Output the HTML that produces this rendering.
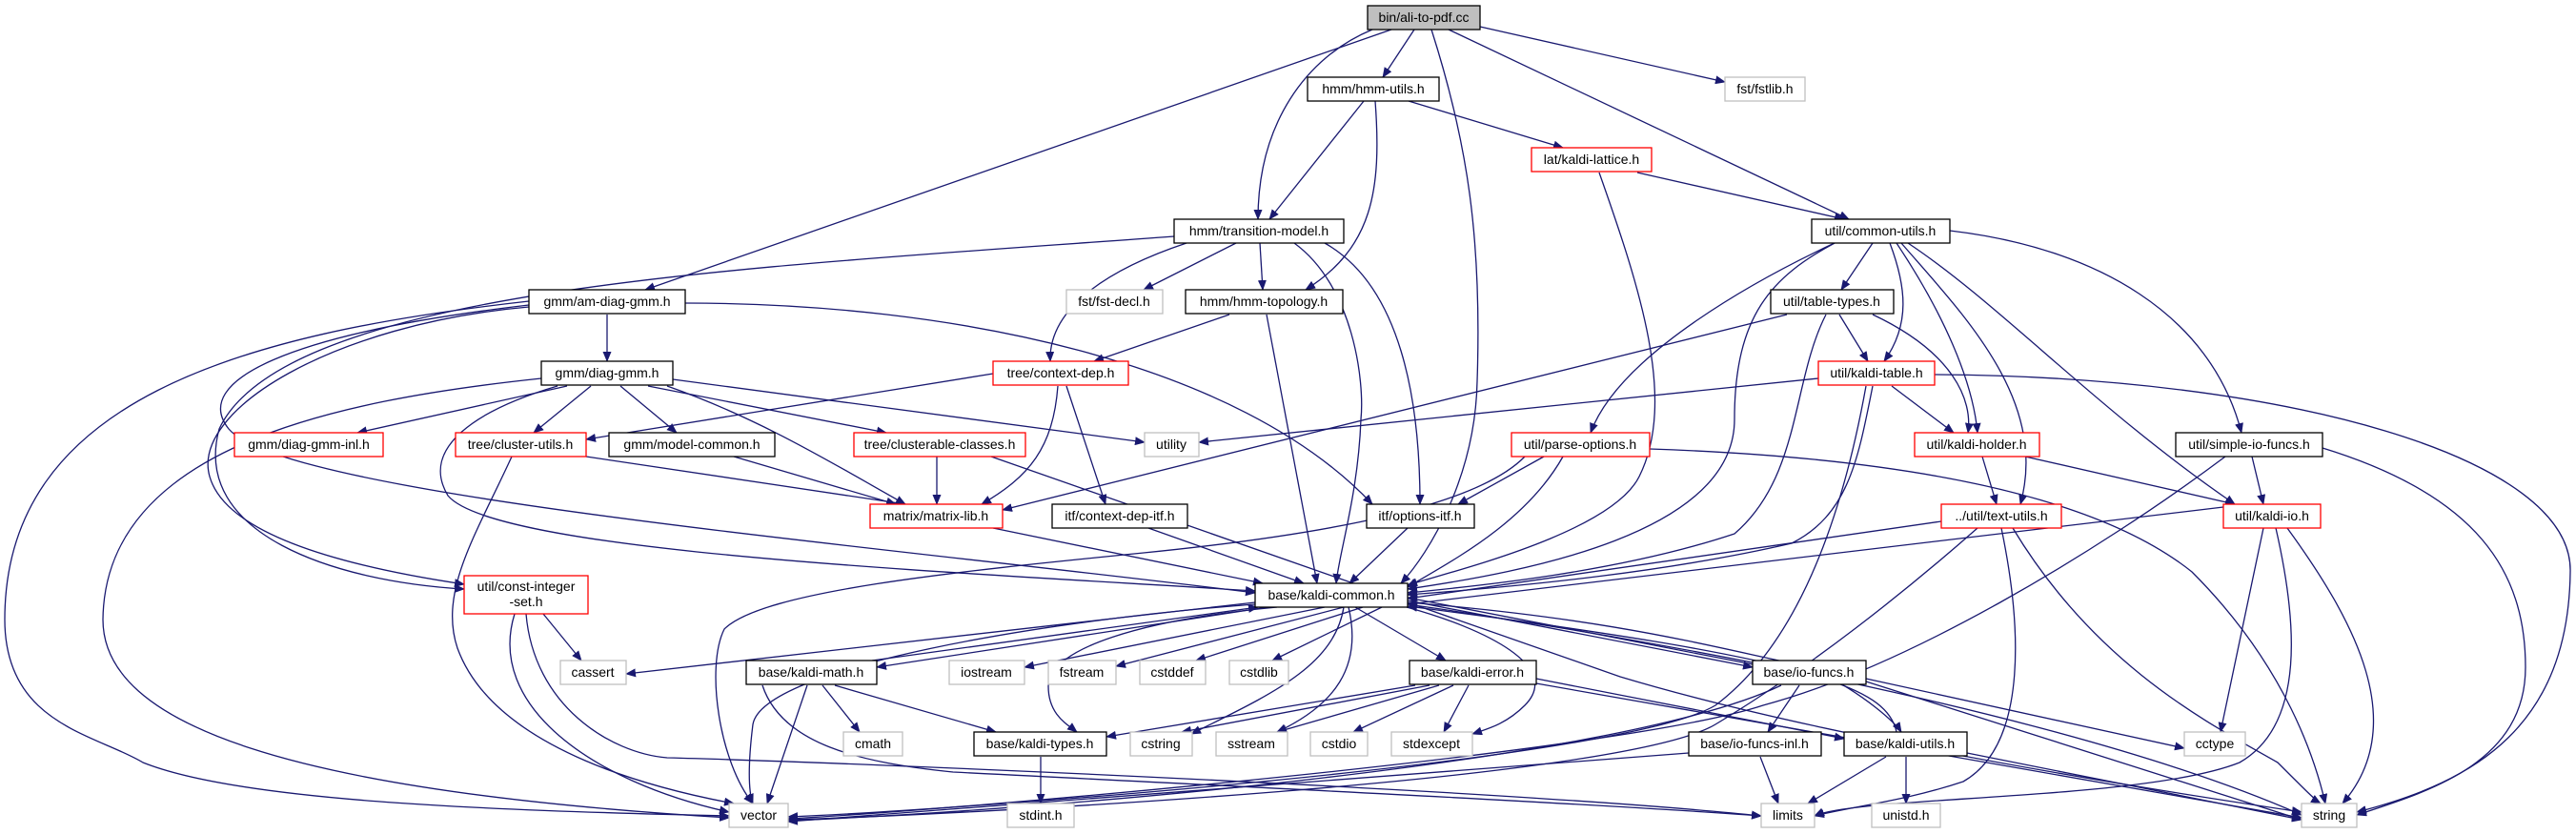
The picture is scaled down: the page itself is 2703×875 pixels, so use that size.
<!DOCTYPE html>
<html><head><meta charset="utf-8"><style>
html,body{margin:0;padding:0;background:#fff;}
svg{display:block}
text{font-family:"Liberation Sans",sans-serif;font-size:14px;fill:#000;text-anchor:middle}
.e{fill:none;stroke:#191970;stroke-width:1.3;marker-end:url(#a)}
.b{fill:#fff;stroke:#000;stroke-width:1.3}
.r{fill:#fff;stroke:#ff0000;stroke-width:1.3}
.g{fill:#fff;stroke:#bfbfbf;stroke-width:1.3}
</style></head><body>
<svg width="2703" height="875" viewBox="0 0 2703 875" xmlns="http://www.w3.org/2000/svg">
<defs><marker id="a" markerWidth="11" markerHeight="9" refX="10" refY="4.5" orient="auto" markerUnits="userSpaceOnUse"><path d="M0,0 L11,4.5 L0,9z" fill="#191970"/></marker></defs>
<g>
<path class="e" d="M1484,31 L1451,81"/>
<path class="e" d="M1440,31 C1370,60 1320,130 1320,230"/>
<path class="e" d="M1460,31 L677,304"/>
<path class="e" d="M1502,31 C1540,150 1555,250 1550,400 C1548,500 1500,580 1470,612"/>
<path class="e" d="M1520,31 L1940,230"/>
<path class="e" d="M1553,28 L1810,86"/>
<path class="e" d="M1431,106 L1332,230"/>
<path class="e" d="M1443,106 C1450,200 1440,260 1370,304"/>
<path class="e" d="M1478,106 L1640,155"/>
<path class="e" d="M1718,181 L1935,230"/>
<path class="e" d="M1678,181 C1720,300 1760,420 1720,500 C1690,560 1520,600 1477,614"/>
<path class="e" d="M1297,255 L1200,304"/>
<path class="e" d="M1322,255 L1325,304"/>
<path class="e" d="M1245,255 C1170,280 1100,320 1102,379"/>
<path class="e" d="M1390,255 C1470,300 1490,420 1490,529"/>
<path class="e" d="M1358,255 C1420,300 1432,400 1428,440 C1425,520 1405,580 1402,612"/>
<path class="e" d="M1232,248 C800,280 300,300 230,450 C200,560 350,610 487,618"/>
<path class="e" d="M637,330 L637,379"/>
<path class="e" d="M555,316 C250,350 5,420 5,650 C5,760 100,770 150,800 C250,840 500,850 765,856"/>
<path class="e" d="M555,322 C350,340 200,430 220,500 C240,570 400,600 487,613"/>
<path class="e" d="M719,318 C1000,318 1300,380 1440,529"/>
<path class="e" d="M555,320 C300,350 200,400 240,450 C300,520 900,570 1317,622"/>
<path class="e" d="M1290,330 L1148,379"/>
<path class="e" d="M1329,330 L1382,612"/>
<path class="e" d="M595,405 L375,454"/>
<path class="e" d="M620,405 L560,454"/>
<path class="e" d="M651,405 L710,454"/>
<path class="e" d="M680,405 L930,454"/>
<path class="e" d="M700,405 C800,440 880,490 950,529"/>
<path class="e" d="M706,398 L1201,464"/>
<path class="e" d="M568,397 C350,420 110,470 108,650 C108,760 300,830 765,858"/>
<path class="e" d="M585,405 C500,430 440,470 470,520 C520,580 1000,600 1317,620"/>
<path class="e" d="M1042,392 L615,461"/>
<path class="e" d="M1110,405 C1105,470 1080,500 1030,529"/>
<path class="e" d="M1119,405 L1160,529"/>
<path class="e" d="M615,479 L950,529"/>
<path class="e" d="M537,479 C500,560 460,620 480,680 C520,790 700,830 770,843"/>
<path class="e" d="M770,479 L940,529"/>
<path class="e" d="M983,479 L983,529"/>
<path class="e" d="M1040,479 L1700,710 C1900,770 2200,820 2415,852"/>
<path class="e" d="M1042,554 L1325,612"/>
<path class="e" d="M1205,554 L1368,612"/>
<path class="e" d="M1477,554 L1416,612"/>
<path class="e" d="M1965,255 L1932,304"/>
<path class="e" d="M1983,255 C2000,300 2005,340 1977,379"/>
<path class="e" d="M1990,255 C2040,330 2070,400 2075,454"/>
<path class="e" d="M1995,255 C2060,330 2150,420 2120,529"/>
<path class="e" d="M2002,255 C2100,320 2200,430 2345,529"/>
<path class="e" d="M2046,242 C2200,260 2320,330 2352,454"/>
<path class="e" d="M1925,255 C1850,290 1700,370 1669,454"/>
<path class="e" d="M1925,255 C1860,290 1820,330 1820,440 C1820,560 1600,600 1477,618"/>
<path class="e" d="M1930,330 L1960,379"/>
<path class="e" d="M1965,330 C2050,370 2070,420 2065,454"/>
<path class="e" d="M1875,330 L1052,535"/>
<path class="e" d="M1916,330 C1880,400 1890,500 1820,560 C1700,600 1550,615 1477,622"/>
<path class="e" d="M1908,397 L1258,464"/>
<path class="e" d="M1985,405 L2050,454"/>
<path class="e" d="M1965,405 C1950,480 1940,540 1880,570 C1750,600 1600,615 1477,624"/>
<path class="e" d="M1958,405 C1930,560 1880,680 1800,740 C1700,800 1000,850 827,857"/>
<path class="e" d="M2030,393 C2400,395 2700,480 2697,600 C2695,760 2600,820 2473,852"/>
<path class="e" d="M1620,479 L1530,529"/>
<path class="e" d="M1640,479 C1600,550 1520,590 1477,616"/>
<path class="e" d="M1600,479 C1550,530 1400,560 1200,580 C1000,600 800,620 760,660 C740,700 755,800 790,843"/>
<path class="e" d="M1731,471 C2000,480 2200,520 2300,600 C2400,700 2430,800 2440,843"/>
<path class="e" d="M2080,479 L2095,529"/>
<path class="e" d="M2125,479 L2345,529"/>
<path class="e" d="M2363,479 L2375,529"/>
<path class="e" d="M2335,479 C2200,580 2000,700 1850,740 C1700,790 1000,850 827,859"/>
<path class="e" d="M2437,470 C2600,520 2650,600 2650,700 C2650,800 2550,830 2473,855"/>
<path class="e" d="M2037,547 L1477,628"/>
<path class="e" d="M2075,554 C2000,620 1900,700 1800,760 C1700,820 1000,855 827,860"/>
<path class="e" d="M2100,554 C2120,650 2130,780 2060,820 C2000,840 1950,845 1904,856"/>
<path class="e" d="M2112,554 C2200,700 2320,760 2390,800 C2420,830 2430,840 2435,843"/>
<path class="e" d="M2333,532 L1477,634"/>
<path class="e" d="M2375,554 L2330,768"/>
<path class="e" d="M2388,554 C2410,650 2420,760 2350,800 C2250,840 1950,835 1904,856"/>
<path class="e" d="M2400,554 C2470,650 2530,760 2458,843"/>
<path class="e" d="M570,644 L610,693"/>
<path class="e" d="M540,644 C510,740 620,820 765,852"/>
<path class="e" d="M552,644 C560,740 640,790 700,795 C900,800 1600,830 1848,856"/>
<path class="e" d="M1317,632 L657,707"/>
<path class="e" d="M1330,637 L920,700"/>
<path class="e" d="M915,693 L1320,637"/>
<path class="e" d="M1390,637 L1075,700"/>
<path class="e" d="M1410,637 L1171,699"/>
<path class="e" d="M1430,637 L1255,693"/>
<path class="e" d="M1450,637 L1335,693"/>
<path class="e" d="M1422,637 L1517,693"/>
<path class="e" d="M1340,637 C1200,650 1100,680 1100,720 C1100,750 1120,760 1130,768"/>
<path class="e" d="M1410,637 C1400,700 1330,730 1250,770"/>
<path class="e" d="M1415,637 C1430,700 1400,740 1340,768"/>
<path class="e" d="M1476,637 C1560,660 1640,700 1600,740 C1580,760 1560,765 1545,770"/>
<path class="e" d="M1317,634 C1100,650 800,700 790,760 C785,800 785,830 790,843"/>
<path class="e" d="M1477,634 C1800,680 2200,760 2415,855"/>
<path class="e" d="M1477,630 L1839,700"/>
<path class="e" d="M1839,697 L1477,627"/>
<path class="e" d="M1477,632 C1700,650 1800,680 1900,700 C1960,730 1990,760 1995,768"/>
<path class="e" d="M1990,768 C1980,720 1900,690 1477,636"/>
<path class="e" d="M1485,719 L1161,773"/>
<path class="e" d="M1500,719 L1240,768"/>
<path class="e" d="M1510,719 L1340,768"/>
<path class="e" d="M1525,719 L1420,768"/>
<path class="e" d="M1541,719 L1515,768"/>
<path class="e" d="M1612,712 L1935,775"/>
<path class="e" d="M1612,717 L2415,858"/>
<path class="e" d="M863,719 L902,768"/>
<path class="e" d="M847,719 L805,843"/>
<path class="e" d="M876,719 L1045,768"/>
<path class="e" d="M800,719 C820,780 900,800 1000,810 C1400,830 1700,845 1848,856"/>
<path class="e" d="M1888,719 L1855,768"/>
<path class="e" d="M1958,712 L2292,785"/>
<path class="e" d="M1869,719 C1700,800 1100,850 827,861"/>
<path class="e" d="M1958,715 L2415,860"/>
<path class="e" d="M1772,790 L827,862"/>
<path class="e" d="M1847,794 L1866,843"/>
<path class="e" d="M1979,794 L1897,843"/>
<path class="e" d="M2000,794 L2000,843"/>
<path class="e" d="M2064,790 L2415,860"/>
<path class="e" d="M1092,794 L1092,843"/>
</g>
<g>
<rect x="1435" y="6" width="118" height="25" fill="#bfbfbf" stroke="#000" stroke-width="1.3"/><text x="1494" y="23">bin/ali-to-pdf.cc</text>
<rect class="b" x="1372" y="81" width="138" height="25"/><text x="1441" y="98">hmm/hmm-utils.h</text>
<rect class="r" x="1607" y="155" width="126" height="25"/><text x="1670" y="172">lat/kaldi-lattice.h</text>
<rect class="b" x="1232" y="230" width="178" height="25"/><text x="1321" y="247">hmm/transition-model.h</text>
<rect class="g" x="1119" y="304" width="101" height="25"/><text x="1169" y="321">fst/fst-decl.h</text>
<rect class="b" x="1244" y="304" width="165" height="25"/><text x="1326" y="321">hmm/hmm-topology.h</text>
<rect class="r" x="1042" y="379" width="142" height="25"/><text x="1113" y="396">tree/context-dep.h</text>
<rect class="b" x="555" y="304" width="164" height="25"/><text x="637" y="321">gmm/am-diag-gmm.h</text>
<rect class="b" x="568" y="379" width="138" height="25"/><text x="637" y="396">gmm/diag-gmm.h</text>
<rect class="g" x="1810" y="81" width="84" height="25"/><text x="1852" y="98">fst/fstlib.h</text>
<rect class="b" x="1901" y="230" width="145" height="25"/><text x="1973" y="247">util/common-utils.h</text>
<rect class="b" x="1858" y="304" width="129" height="25"/><text x="1922" y="321">util/table-types.h</text>
<rect class="r" x="1908" y="379" width="122" height="25"/><text x="1969" y="396">util/kaldi-table.h</text>
<rect class="r" x="246" y="454" width="156" height="25"/><text x="324" y="471">gmm/diag-gmm-inl.h</text>
<rect class="r" x="478" y="454" width="137" height="25"/><text x="546" y="471">tree/cluster-utils.h</text>
<rect class="b" x="639" y="454" width="174" height="25"/><text x="726" y="471">gmm/model-common.h</text>
<rect class="r" x="896" y="454" width="180" height="25"/><text x="986" y="471">tree/clusterable-classes.h</text>
<rect class="g" x="1201" y="454" width="57" height="25"/><text x="1229" y="471">utility</text>
<rect class="r" x="1586" y="454" width="145" height="25"/><text x="1658" y="471">util/parse-options.h</text>
<rect class="r" x="913" y="529" width="139" height="25"/><text x="982" y="546">matrix/matrix-lib.h</text>
<rect class="b" x="1104" y="529" width="142" height="25"/><text x="1175" y="546">itf/context-dep-itf.h</text>
<rect class="b" x="1434" y="529" width="113" height="25"/><text x="1490" y="546">itf/options-itf.h</text>
<rect class="r" x="2009" y="454" width="131" height="25"/><text x="2074" y="471">util/kaldi-holder.h</text>
<rect class="b" x="2283" y="454" width="154" height="25"/><text x="2360" y="471">util/simple-io-funcs.h</text>
<rect class="r" x="2037" y="529" width="126" height="25"/><text x="2100" y="546">../util/text-utils.h</text>
<rect class="r" x="2333" y="529" width="102" height="25"/><text x="2384" y="546">util/kaldi-io.h</text>
<rect class="b" x="1317" y="612" width="160" height="25"/><text x="1397" y="629">base/kaldi-common.h</text>
<rect class="r" x="487" y="604" width="130" height="40"/><text x="552" y="620">util/const-integer</text><text x="552" y="636">-set.h</text>
<rect class="g" x="588" y="693" width="69" height="25"/><text x="622" y="710">cassert</text>
<rect class="b" x="783" y="693" width="137" height="25"/><text x="851" y="710">base/kaldi-math.h</text>
<rect class="g" x="996" y="693" width="79" height="25"/><text x="1035" y="710">iostream</text>
<rect class="g" x="1100" y="693" width="71" height="25"/><text x="1135" y="710">fstream</text>
<rect class="g" x="1196" y="693" width="69" height="25"/><text x="1230" y="710">cstddef</text>
<rect class="g" x="1290" y="693" width="62" height="25"/><text x="1321" y="710">cstdlib</text>
<rect class="b" x="1479" y="693" width="133" height="25"/><text x="1545" y="710">base/kaldi-error.h</text>
<rect class="b" x="1839" y="693" width="119" height="25"/><text x="1898" y="710">base/io-funcs.h</text>
<rect class="g" x="885" y="768" width="62" height="25"/><text x="916" y="785">cmath</text>
<rect class="b" x="1022" y="768" width="139" height="25"/><text x="1091" y="785">base/kaldi-types.h</text>
<rect class="g" x="1186" y="768" width="65" height="25"/><text x="1218" y="785">cstring</text>
<rect class="g" x="1276" y="768" width="75" height="25"/><text x="1313" y="785">sstream</text>
<rect class="g" x="1375" y="768" width="60" height="25"/><text x="1405" y="785">cstdio</text>
<rect class="g" x="1460" y="768" width="85" height="25"/><text x="1502" y="785">stdexcept</text>
<rect class="b" x="1772" y="768" width="139" height="25"/><text x="1841" y="785">base/io-funcs-inl.h</text>
<rect class="b" x="1935" y="768" width="129" height="25"/><text x="1999" y="785">base/kaldi-utils.h</text>
<rect class="g" x="2292" y="768" width="64" height="25"/><text x="2324" y="785">cctype</text>
<rect class="g" x="765" y="843" width="62" height="25"/><text x="796" y="860">vector</text>
<rect class="g" x="1057" y="843" width="70" height="25"/><text x="1092" y="860">stdint.h</text>
<rect class="g" x="1848" y="843" width="56" height="25"/><text x="1876" y="860">limits</text>
<rect class="g" x="1964" y="843" width="72" height="25"/><text x="2000" y="860">unistd.h</text>
<rect class="g" x="2415" y="843" width="58" height="25"/><text x="2444" y="860">string</text>
</g>
</svg>
</body></html>
